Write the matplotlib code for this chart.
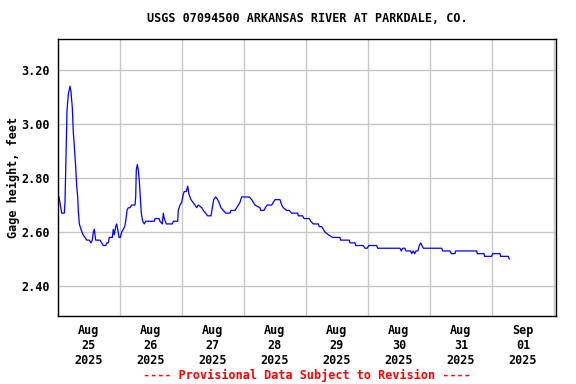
import numpy as np
import pandas as pd
import matplotlib
matplotlib.use("Agg")
from matplotlib import pyplot as plt

# gage height readings, hours after 2025-08-25 00:00
hours = [0.39, 1.43, 2.44, 2.71, 3.10, 3.48, 3.99, 4.65, 5.03, 5.54, 5.92, 6.31,
         6.85, 7.24, 7.63, 7.86, 8.25, 8.90, 9.68, 10.45, 11.11, 12.12, 12.77,
         13.28, 13.66, 14.05, 14.59, 15.37, 16.26, 16.92, 17.54, 18.46, 18.97,
         19.47, 19.86, 20.40, 21.02, 21.41, 21.79, 22.34, 22.72, 23.11, 23.61,
         24.12, 24.66, 25.28, 25.82, 26.21, 26.71, 27.21, 27.87, 28.53, 29.81,
         30.08, 30.31, 30.70, 31.08, 31.47, 31.86, 32.25, 32.79, 33.41, 33.95,
         37.28, 37.55, 39.10, 39.48, 40.37, 40.76, 41.15, 41.54, 41.92, 44.25,
         44.63, 46.34, 46.57, 47.23, 47.88, 48.50, 48.89, 49.66, 50.21, 50.71,
         51.48, 52.26, 53.03, 53.69, 54.31, 55.63, 56.25, 57.17, 57.95, 59.23,
         59.73, 60.27, 61.05, 61.82, 62.32, 63.10, 63.99, 64.92, 66.58, 66.97,
         68.52, 69.17, 69.79, 70.45, 71.11, 71.73, 74.05, 74.98, 75.60, 76.26,
         78.19, 78.46, 79.74, 80.25, 81.02, 82.72, 83.34, 84.00, 85.94, 86.59,
         87.21, 88.53, 89.54, 90.46, 92.79, 93.02, 94.72, 95.23, 97.28, 97.82,
         98.83, 100.76, 101.15, 102.08, 102.70, 103.35, 104.63, 106.34, 109.16,
         109.43, 110.21, 110.60, 112.76, 113.03, 114.97, 115.24, 118.18, 118.84,
         119.73, 120.26, 123.36, 123.74, 132.39, 132.89, 133.43, 134.32, 134.71,
         136.52, 136.91, 137.53, 138.07, 138.58, 139.35, 139.86, 140.40, 140.90,
         141.41, 148.53, 148.92, 151.74, 152.25, 153.68, 153.95, 162.08, 162.31,
         164.90, 165.17, 167.88, 168.27, 171.10, 171.37, 174.31, 174.70]
height = [2.73, 2.67, 2.67, 2.71, 2.88, 3.05, 3.11, 3.14, 3.12, 3.06, 2.97, 2.92,
          2.84, 2.77, 2.73, 2.68, 2.63, 2.61, 2.59, 2.58, 2.57, 2.57, 2.56,
          2.57, 2.60, 2.61, 2.57, 2.57, 2.57, 2.56, 2.55, 2.55, 2.56,
          2.56, 2.58, 2.58, 2.58, 2.61, 2.59, 2.62, 2.63, 2.61, 2.58,
          2.58, 2.60, 2.61, 2.62, 2.64, 2.68, 2.69, 2.69, 2.70, 2.70,
          2.73, 2.83, 2.85, 2.83, 2.79, 2.73, 2.67, 2.64, 2.63, 2.64,
          2.64, 2.65, 2.65, 2.64, 2.63, 2.67, 2.65, 2.64, 2.63, 2.63,
          2.64, 2.64, 2.68, 2.70, 2.71, 2.74, 2.75, 2.75, 2.77, 2.74,
          2.72, 2.71, 2.70, 2.69, 2.70, 2.69, 2.68, 2.67, 2.66, 2.66,
          2.69, 2.72, 2.73, 2.72, 2.71, 2.69, 2.68, 2.67, 2.67, 2.68,
          2.68, 2.69, 2.70, 2.71, 2.73, 2.73, 2.73, 2.72, 2.71, 2.70,
          2.69, 2.68, 2.68, 2.69, 2.70, 2.70, 2.71, 2.72, 2.72, 2.70,
          2.69, 2.68, 2.68, 2.67, 2.67, 2.66, 2.66, 2.65, 2.65, 2.64,
          2.63, 2.63, 2.62, 2.62, 2.61, 2.60, 2.59, 2.58, 2.58,
          2.57, 2.57, 2.57, 2.57, 2.56, 2.56, 2.55, 2.55, 2.54,
          2.54, 2.55, 2.55, 2.54, 2.54, 2.53, 2.54, 2.54, 2.53,
          2.53, 2.52, 2.53, 2.52, 2.53, 2.53, 2.55, 2.56, 2.55,
          2.54, 2.54, 2.53, 2.53, 2.52, 2.52, 2.53, 2.53, 2.52,
          2.52, 2.51, 2.51, 2.52, 2.52, 2.51, 2.51, 2.50]

start = pd.Timestamp("2025-08-25 00:00")
times = start + pd.to_timedelta(hours, unit="h")

yticks = [2.40, 2.60, 2.80, 3.00, 3.20]
day_labels = ["Aug\n25\n2025", "Aug\n26\n2025", "Aug\n27\n2025", "Aug\n28\n2025",
              "Aug\n29\n2025", "Aug\n30\n2025", "Aug\n31\n2025", "Sep\n01\n2025"]

plt.rcParams['font.family'] = 'DejaVu Sans Mono'
plt.rcParams['font.weight'] = 'bold'

fig = plt.figure(figsize=(5.76, 3.84), dpi=100)
ax = fig.add_axes([58/576, 1-316/384, 498/576, 277/384])

ax.plot(times, height, color='#0000ff', linewidth=0.9)

noon = [start + pd.Timedelta(hours=12 + 24*i) for i in range(len(day_labels))]
midnight = [start + pd.Timedelta(hours=24*i) for i in range(1, 9)]
ax.set_xticks(noon)
ax.set_xticklabels(day_labels, fontsize=8.5, fontweight='bold', linespacing=1.2)
ax.set_xticks(midnight, minor=True)
ax.set_xlim(start, start + pd.Timedelta(hours=192.8))

ax.set_yticks(yticks)
ax.set_yticklabels(["%.2f" % v for v in yticks], fontsize=8.5, fontweight='bold')
ax.set_ylim(2.289, 3.315)

ax.grid(True, which='minor', axis='x', color='#c8c8c8', linewidth=1)
ax.grid(True, which='major', axis='y', color='#c8c8c8', linewidth=1)
ax.tick_params(axis='x', which='both', length=0, pad=6)
ax.tick_params(axis='y', which='both', length=0, pad=6)
ax.set_axisbelow(True)
for s in ax.spines.values():
    s.set_linewidth(1)
    s.set_color('black')

ax.set_ylabel("Gage height, feet", fontsize=8.5, fontweight='bold', labelpad=1)
fig.text(0.5*(58+556)/576, 1-19/384, "USGS 07094500 ARKANSAS RIVER AT PARKDALE, CO.",
         ha='center', va='center', fontsize=8.5, fontweight='bold')
fig.text(0.5*(58+556)/576, 1-375/384, "---- Provisional Data Subject to Revision ----",
         ha='center', va='center', fontsize=8.5, fontweight='bold', color='red')

fig.savefig("out.png", dpi=100)
